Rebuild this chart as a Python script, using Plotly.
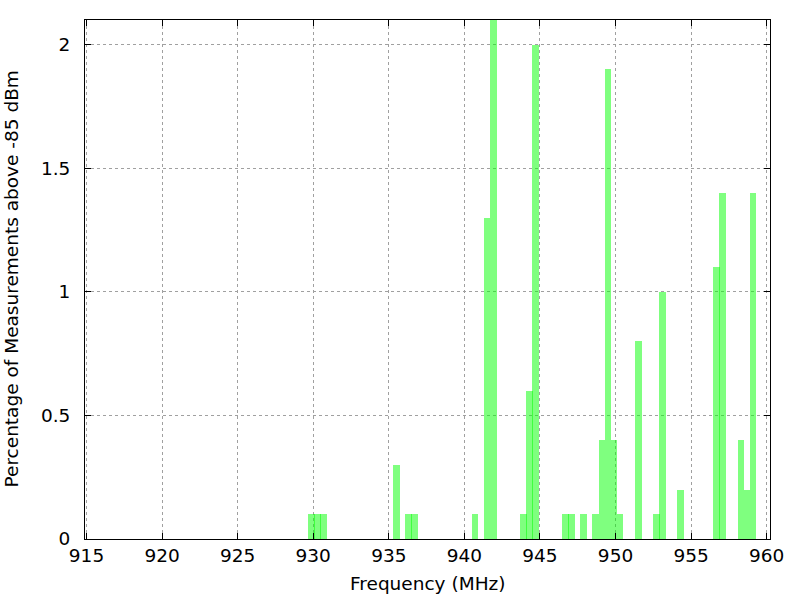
import plotly.graph_objects as go

freqs = [929.9, 930.3, 930.7, 935.5, 936.3, 936.7, 940.7, 941.5, 941.9,
         943.9, 944.3, 944.7, 946.7, 947.1, 947.9, 948.7, 949.1, 949.5,
         949.9, 950.3, 951.5, 952.7, 953.1, 954.3, 956.7, 957.1, 958.3,
         958.7, 959.1]
percent = [0.1, 0.1, 0.1, 0.3, 0.1, 0.1, 0.1, 1.3, 2.1,
           0.1, 0.6, 2.0, 0.1, 0.1, 0.1, 0.1, 0.4, 1.9,
           0.4, 0.1, 0.8, 0.1, 1.0, 0.2, 1.1, 1.4, 0.4,
           0.2, 1.4]
x_ticks = [915, 920, 925, 930, 935, 940, 945, 950, 955, 960]
y_ticks = [0, 0.5, 1, 1.5, 2]
y_tick_text = ["0", "0.5", "1", "1.5", "2"]
x_title = "Frequency (MHz)"
y_title = "Percentage of Measurements above -85 dBm"

font = "DejaVu Sans"
fsize = 18.5

fig = go.Figure()
fig.add_trace(go.Bar(
    x=freqs, y=percent, width=0.45,
    marker=dict(color="rgba(0,255,0,0.5)", line=dict(width=0)),
    showlegend=False,
))

axis_common = dict(
    showline=True, linecolor="black", linewidth=1, mirror="ticks",
    ticks="inside", ticklen=6, tickcolor="black", tickwidth=1,
    showgrid=True, gridcolor="#a0a0a0", griddash="dot", gridwidth=1,
    zeroline=False, automargin=False,
    tickfont=dict(family=font, size=fsize, color="black"),
)

fig.update_layout(
    width=800, height=600,
    margin=dict(l=85, r=30, t=20, b=61),
    plot_bgcolor="white", paper_bgcolor="white",
    bargap=0, barmode="overlay",
    font=dict(family=font, size=fsize, color="black"),
    xaxis=dict(range=[914.9, 960.22], tickvals=x_ticks, **axis_common),
    yaxis=dict(range=[0, 2.1], tickvals=y_ticks, ticktext=y_tick_text,
               ticklabelstandoff=10, **axis_common),
    annotations=[
        dict(text=x_title, xref="paper", yref="paper", x=0.5, y=0,
             xanchor="center", yanchor="middle", yshift=-44, showarrow=False,
             font=dict(family=font, size=fsize, color="black")),
        dict(text=y_title, xref="paper", yref="paper", x=0, y=0.5,
             xanchor="center", yanchor="middle", xshift=-74, textangle=-90,
             showarrow=False, font=dict(family=font, size=fsize, color="black")),
    ],
)

fig.write_html("out.html", config={"displayModeBar": False},
               post_script="document.body.style.margin='0';")
